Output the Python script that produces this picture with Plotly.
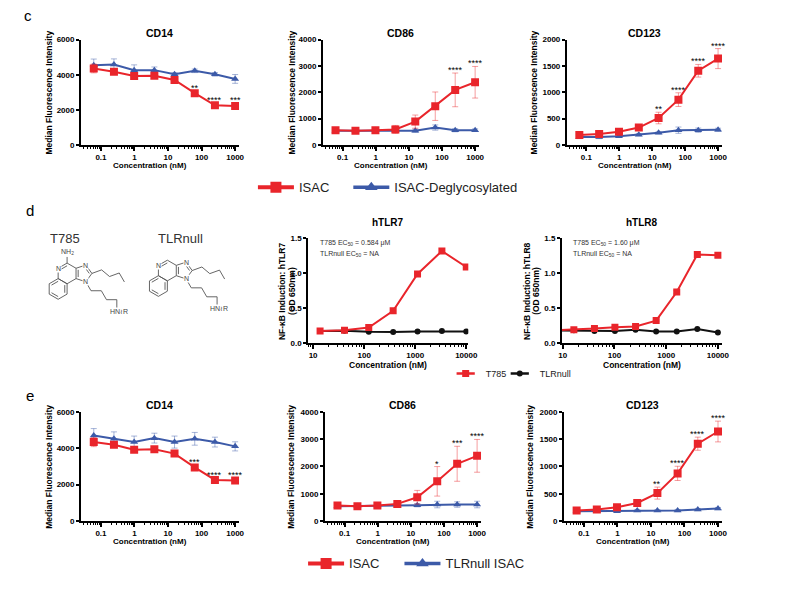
import numpy as np
import plotly.graph_objects as go

W, H = 793, 596
OFF = 8  # page margin around the plot div
FONT = "Liberation Sans"
RED = "#e9252b"
BLUE = "#3c5aa8"
BLACK = "#111111"
RED_ERR = "rgba(233,37,43,0.45)"
BLUE_ERR = "rgba(60,90,168,0.45)"
GREY = "#555555"

# concentrations (nM), 4-fold dilution
conc = [0.061, 0.244, 0.977, 3.91, 15.6, 62.5, 250, 1000]
conc_ticks = [0.1, 1, 10, 100, 1000]
conc_ticktext = ["0.1", "1", "10", "100", "1000"]

# c: ISAC vs ISAC-Deglycosylated
c_cd14_isac = [4355, 4170, 3925, 3945, 3700, 2950, 2260, 2210]
c_cd14_isac_sd = [250, 150, 150, 150, 120, 150, 100, 160]
c_cd14_degly = [4540, 4580, 4260, 4260, 4020, 4220, 4020, 3760]
c_cd14_degly_sd = [350, 320, 300, 180, 100, 100, 100, 250]
c_cd14_stars = ["", "", "", "", "", "**", "****", "***"]

c_cd86_isac = [560, 540, 560, 590, 885, 1470, 2090, 2380]
c_cd86_isac_sd = [80, 60, 60, 150, 250, 540, 640, 600]
c_cd86_degly = [540, 540, 560, 560, 540, 660, 560, 560]
c_cd86_degly_sd = [50, 50, 40, 50, 60, 100, 60, 50]
c_cd86_stars = ["", "", "", "", "", "", "****", "****"]

c_cd123_isac = [187, 206, 249, 330, 511, 860, 1408, 1639]
c_cd123_isac_sd = [40, 30, 30, 30, 110, 130, 120, 190]
c_cd123_degly = [150, 150, 165, 195, 230, 280, 280, 287]
c_cd123_degly_sd = [30, 30, 20, 20, 20, 60, 40, 30]
c_cd123_stars = ["", "", "", "", "**", "****", "****", "****"]

# d: NF-kB reporter cells
tlr7_conc = [13.7, 41.2, 123, 370, 1111, 3333, 10000]
tlr7_t785 = [0.17, 0.18, 0.22, 0.46, 0.99, 1.32, 1.09]
tlr7_null = [0.17, 0.175, 0.16, 0.155, 0.165, 0.17, 0.165]
tlr8_conc = [6.55, 16.4, 41, 102, 256, 640, 1600, 4000, 10000]
tlr8_t785 = [0.18, 0.19, 0.205, 0.225, 0.235, 0.32, 0.73, 1.27, 1.26]
tlr8_t785_sd = [0.01, 0.01, 0.01, 0.01, 0.01, 0.01, 0.02, 0.02, 0.03]
tlr8_null = [0.18, 0.18, 0.17, 0.17, 0.19, 0.165, 0.165, 0.2, 0.15]
tlr_ticks = [10, 100, 1000, 10000]

# e: ISAC vs TLRnull ISAC
e_cd14_isac = [4337, 4192, 3921, 3939, 3704, 2945, 2259, 2223]
e_cd14_isac_sd = [250, 150, 150, 120, 120, 150, 100, 160]
e_cd14_null = [4698, 4517, 4337, 4554, 4337, 4517, 4337, 4102]
e_cd14_null_sd = [380, 380, 330, 270, 330, 350, 270, 250]
e_cd14_stars = ["", "", "", "", "", "***", "****", "****"]

e_cd86_isac = [570, 545, 570, 630, 873, 1455, 2097, 2388]
e_cd86_isac_sd = [80, 60, 60, 120, 250, 540, 640, 600]
e_cd86_null = [545, 545, 570, 570, 582, 606, 606, 606]
e_cd86_null_sd = [60, 60, 40, 50, 60, 120, 100, 120]
e_cd86_stars = ["", "", "", "", "", "*", "***", "****"]

e_cd123_isac = [193, 211, 253, 331, 512, 873, 1416, 1639]
e_cd123_isac_sd = [40, 30, 30, 30, 110, 130, 120, 190]
e_cd123_null = [181, 181, 181, 193, 193, 193, 211, 229]
e_cd123_null_sd = [20, 20, 15, 15, 15, 20, 20, 20]
e_cd123_stars = ["", "", "", "", "**", "****", "****", "****"]

FW, FH = W - OFF, H - OFF


def px(x):
    return (x - OFF) / FW


def py(y):
    return 1 - (y - OFF) / FH


minor_vals = [m * 10 ** k for k in range(-2, 5) for m in range(2, 10)]

fig = go.Figure()
layout = {}
ann = []


def add_axes(n, x0, x1, y0, y1, xr, xt, xtt, yr, yt, ytt):
    xa = "xaxis" if n == 1 else "xaxis%d" % n
    ya = "yaxis" if n == 1 else "yaxis%d" % n
    tick_font = dict(family=FONT, size=8, color="black", weight="bold")
    common = dict(showline=True, linecolor="black", linewidth=1.5, ticks="outside",
                  ticklen=3, tickwidth=1.5, tickcolor="black", showgrid=False,
                  zeroline=False, tickfont=tick_font, fixedrange=True)
    layout[xa] = dict(common, domain=[px(x0), px(x1)], anchor="y" if n == 1 else "y%d" % n,
                      type="log", range=xr, tickmode="array", tickvals=xt, ticktext=xtt,
                      ticklen=4,
                      minor=dict(tickmode="array", tickvals=minor_vals, ticks="outside",
                                 ticklen=2.5, tickwidth=1, tickcolor="black"))
    layout[ya] = dict(common, domain=[py(y1), py(y0)], anchor="x" if n == 1 else "x%d" % n,
                      range=yr, tickmode="array", tickvals=yt, ticktext=ytt)


def refs(n):
    return ("x", "y") if n == 1 else ("x%d" % n, "y%d" % n)


def series(n, x, y, sd, color, ecolor, symbol, size, width=2):
    xr, yr = refs(n)
    err = None
    if sd is not None:
        err = dict(type="data", array=sd, color=ecolor, thickness=1, width=3)
    fig.add_trace(go.Scatter(x=x, y=y, error_y=err, mode="lines+markers",
                             line=dict(color=color, width=width),
                             marker=dict(symbol=symbol, size=size, color=color),
                             xaxis=xr, yaxis=yr, showlegend=False, hoverinfo="skip"))


def stars(n, x, y, sd, labels):
    xr, yr = refs(n)
    for xi, yi, si, lab in zip(x, y, sd, labels):
        if lab:
            ann.append(dict(x=np.log10(xi), y=yi + si, xref=xr, yref=yr, text=lab,
                            showarrow=False, yanchor="bottom", yshift=-4,
                            font=dict(family=FONT, size=9, color="black")))


def text(x, y, s, size, bold=False, angle=0, xanchor="center", color="black"):
    ann.append(dict(x=px(x), y=py(y), xref="paper", yref="paper", text=s, showarrow=False,
                    xanchor=xanchor, yanchor="middle", textangle=angle,
                    font=dict(family=FONT, size=size, color=color,
                              weight="bold" if bold else "normal")))


# flow cytometry panels (rows c and e)
flow = [
    # n, x0, x1, row top, row bottom, title, ylabel x, yr, yticks, isac, isac sd, other, other sd, stars
    (1, 79, 240, 36, 143, "CD14", 47, [0, 6000], [0, 2000, 4000, 6000],
     c_cd14_isac, c_cd14_isac_sd, c_cd14_degly, c_cd14_degly_sd, c_cd14_stars),
    (2, 325, 484, 36, 143, "CD86", 294, [0, 4000], [0, 1000, 2000, 3000, 4000],
     c_cd86_isac, c_cd86_isac_sd, c_cd86_degly, c_cd86_degly_sd, c_cd86_stars),
    (3, 573, 731, 36, 143, "CD123", 540, [0, 2000], [0, 500, 1000, 1500, 2000],
     c_cd123_isac, c_cd123_isac_sd, c_cd123_degly, c_cd123_degly_sd, c_cd123_stars),
    (6, 79, 240, 414, 525, "CD14", 47, [0, 6000], [0, 2000, 4000, 6000],
     e_cd14_isac, e_cd14_isac_sd, e_cd14_null, e_cd14_null_sd, e_cd14_stars),
    (7, 327, 486, 414, 525, "CD86", 293, [0, 4000], [0, 1000, 2000, 3000, 4000],
     e_cd86_isac, e_cd86_isac_sd, e_cd86_null, e_cd86_null_sd, e_cd86_stars),
    (8, 570, 731, 414, 525, "CD123", 536, [0, 2000], [0, 500, 1000, 1500, 2000],
     e_cd123_isac, e_cd123_isac_sd, e_cd123_null, e_cd123_null_sd, e_cd123_stars),
]

for (n, x0, x1, y0, y1, title, ylx, yr, yt, isac, isac_sd, other, other_sd, st) in flow:
    add_axes(n, x0, x1, y0, y1, [-1.6, 3.12], conc_ticks, conc_ticktext,
             yr, yt, [str(v) for v in yt])
    series(n, conc, other, other_sd, BLUE, BLUE_ERR, "triangle-up", 7)
    series(n, conc, isac, isac_sd, RED, RED_ERR, "square", 8)
    stars(n, conc, isac, isac_sd, st)
    text((x0 + x1) / 2, y0 - 7, title, 10.5, bold=True)
    text(ylx, (y0 + y1) / 2, "Median Fluorescence Intensity", 8.5, bold=True, angle=-90)
    text((x0 + x1) / 2 - 10, y1 + 21, "Concentration (nM)", 8, bold=True)

# reporter panels (row d)
tlr = [
    (4, 310, 473, [0.9, 4.04], tlr7_conc, tlr7_t785, None, tlr7_null, "hTLR7", 283,
     "0.584", 320),
    (5, 568, 731, [0.98, 4.08], tlr8_conc, tlr8_t785, tlr8_t785_sd, tlr8_null, "hTLR8", 532,
     "1.60", 577),
]
for (n, x0, x1, xr, xc, t785, t785_sd, null, title, ylx, ec50, ecx) in tlr:
    add_axes(n, x0, x1, 238, 344, xr, tlr_ticks, [str(v) for v in tlr_ticks],
             [0, 1.5], [0, 0.5, 1.0, 1.5], ["0.0", "0.5", "1.0", "1.5"])
    series(n, xc, null, None, BLACK, BLACK, "circle", 6)
    series(n, xc, t785, t785_sd, RED, RED, "square", 7)
    text((x0 + x1) / 2, 222, title, 10, bold=True)
    text(ylx, 291, "NF-\u03baB Induction: %s" % title, 8.5, bold=True, angle=-90)
    text(ylx + 10, 291, "(OD 650nm)", 8.5, bold=True, angle=-90)
    text((x0 + x1) / 2, 366, "Concentration (nM)", 8.5, bold=True)
    text(ecx, 243, "T785 EC<sub>50</sub> = %s \u03bcM" % ec50, 7, xanchor="left", color="#333")
    text(ecx, 254, "TLRnull EC<sub>50</sub> = NA", 7, xanchor="left", color="#333")

# panel letters
text(25, 12, "c", 15)
text(27, 210, "d", 15)
text(27, 397, "e", 15)

# chemical structures (drawn on a hidden axis, 1 unit = 1 bond)
layout["xaxis9"] = dict(domain=[px(35), px(245)], range=[0, 20], visible=False,
                        anchor="y9", fixedrange=True)
layout["yaxis9"] = dict(domain=[py(335), py(240)], range=[0, 9.05], visible=False,
                        anchor="x9", fixedrange=True)


def hexagon(cx, cy):
    return [(cx + np.cos(np.radians(a)), cy + np.sin(np.radians(a)))
            for a in (90, 30, -30, -90, -150, 150)]


def step(p, angles):
    pts = [p]
    for a in angles:
        q = pts[-1]
        pts.append((q[0] + np.cos(np.radians(a)), q[1] + np.sin(np.radians(a))))
    return pts


def molecule(cx, cy, amine):
    xs, ys = [], []

    def seg(a, b):
        xs.extend([a[0], b[0], None])
        ys.extend([a[1], b[1], None])

    def inner(a, b, c, f=0.74):
        seg((c[0] + (a[0] - c[0]) * f, c[1] + (a[1] - c[1]) * f),
            (c[0] + (b[0] - c[0]) * f, c[1] + (b[1] - c[1]) * f))

    P = hexagon(cx, cy)
    bc = (cx - 0.866, cy - 1.5)
    B = hexagon(*bc)
    for ring in (P, B):
        for i in range(6):
            seg(ring[i], ring[(i + 1) % 6])
    for i, j in ((1, 2), (3, 4), (5, 0)):
        inner(B[i], B[j], bc)
    inner(P[0], P[5], (cx, cy))
    mc = (cx + 0.866 + 0.688, cy)
    R = 0.8507
    n3 = (mc[0] + R * np.cos(np.radians(72)), mc[1] + R * np.sin(np.radians(72)))
    c2 = (mc[0] + R, mc[1])
    n1 = (mc[0] + R * np.cos(np.radians(72)), mc[1] - R * np.sin(np.radians(72)))
    for a, b in ((P[1], n3), (n3, c2), (c2, n1), (n1, P[2])):
        seg(a, b)
    inner(n3, c2, mc, 0.7)
    inner(P[1], P[2], mc, 0.7)
    butyl = step(c2, [20, -40, 20, -60])
    for a, b in zip(butyl[:-1], butyl[1:]):
        seg(a, b)
    chain = step(n1, [-60, 0, -60, 0, -90])
    for a, b in zip(chain[:-1], chain[1:]):
        seg(a, b)
    if amine:
        seg(P[0], (cx, cy + 1.6))
    fig.add_trace(go.Scatter(x=xs, y=ys, mode="lines", line=dict(color=GREY, width=0.9),
                             xaxis="x9", yaxis="y9", showlegend=False, hoverinfo="skip"))
    labels = [(P[5], "N", "center"), (n3, "N", "center"), (n1, "N", "center")]
    if amine:
        labels.append(((cx, cy + 2.05), "NH<sub>2</sub>", "center"))
    end = chain[-1]
    labels.append(((end[0] - 0.75, end[1] - 0.15), "HN\u2240R", "left"))
    for (x, y), s, xa in labels:
        ann.append(dict(x=x, y=y, xref="x9", yref="y9", text=s, showarrow=False,
                        xanchor=xa, yanchor="middle", bgcolor="white", borderpad=0,
                        font=dict(family=FONT, size=7, color="#444")))


molecule(2.86, 5.86, True)
molecule(12.57, 6.14, False)
text(63, 238, "T785", 13, color="#333")
text(180, 238, "TLRnull", 13, color="#333")


# legends: one legend box per entry so each sits where the reference has it
def legend_box(legend, mx, my, fsize, iw):
    layout[legend] = dict(orientation="h", xanchor="left", yanchor="middle",
                          bgcolor="rgba(0,0,0,0)", x=px(mx - 22), y=py(my), itemwidth=iw,
                          font=dict(family=FONT, size=fsize, color="#222"))


def legend_entry(name, color, symbol, size, width, legend, mx, my, fsize, iw):
    fig.add_trace(go.Scatter(x=[None], y=[None], name=name, mode="lines+markers",
                             line=dict(color=color, width=width),
                             marker=dict(symbol=symbol, size=size, color=color),
                             legend=legend, showlegend=True))
    legend_box(legend, mx, my, fsize, iw)


def short_legend_entry(name, color, symbol, size, legend, legend_mark, mx, my):
    # short line segment + marker stacked in two overlapping legend boxes
    fig.add_trace(go.Scatter(x=[None], y=[None], name=name, mode="markers",
                             marker=dict(symbol="line-ew", size=13,
                                         line=dict(color=color, width=2.5)),
                             legend=legend, showlegend=True))
    fig.add_trace(go.Scatter(x=[None], y=[None], name=" ", mode="markers",
                             marker=dict(symbol=symbol, size=size, color=color),
                             legend=legend_mark, showlegend=True))
    legend_box(legend, mx, my, 9, 30)
    legend_box(legend_mark, mx, my, 9, 30)


legend_entry("ISAC", RED, "square", 11, 4, "legend", 276, 186, 13, 36)
legend_entry("ISAC-Deglycosylated", BLUE, "triangle-up", 11, 3.5, "legend2", 373, 186, 13, 36)
short_legend_entry("T785", RED, "square", 7, "legend3", "legend7", 472, 375)
short_legend_entry("TLRnull", BLACK, "circle", 6, "legend4", "legend8", 527, 375)
legend_entry("ISAC", RED, "square", 11, 4, "legend5", 327, 568, 13, 36)
legend_entry("TLRnull ISAC", BLUE, "triangle-up", 11, 3.5, "legend6", 425, 568, 13, 36)

fig.update_layout(width=FW, height=FH, margin=dict(l=0, r=0, t=0, b=0),
                  paper_bgcolor="white", plot_bgcolor="white",
                  font=dict(family=FONT), annotations=ann, **layout)

fig.write_html("out.html")
